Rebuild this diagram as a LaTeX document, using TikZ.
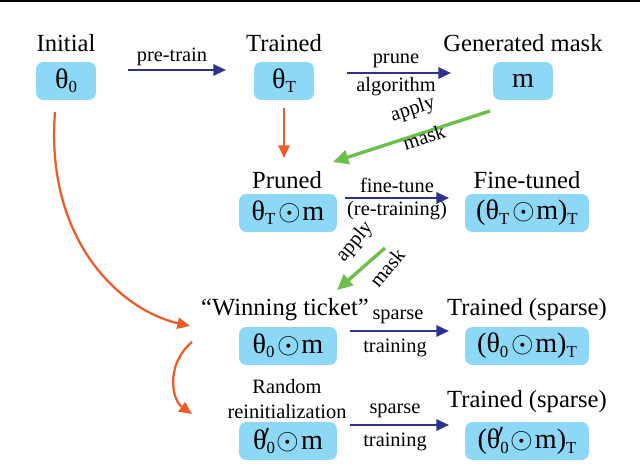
\documentclass[tikz,border=0pt]{standalone}
\usepackage{fontspec}
\setmainfont{Liberation Serif}
\usetikzlibrary{arrows.meta}
\newcommand{\sbx}[1]{\raisebox{-0.15em}{\fontsize{12}{12}\selectfont #1}}
\newcommand{\od}{\kern0.1em$\odot$\kern0.05em}
\begin{document}
\begin{tikzpicture}[x=0.025cm,y=-0.025cm,
  box/.style={fill=boxc,rounded corners=5pt,minimum height=38*0.709pt,font=\fontsize{20}{22}\selectfont,inner sep=2pt},
  lab/.style={font=\fontsize{17.5}{20}\selectfont},
  alab/.style={font=\fontsize{14.5}{17}\selectfont},
  barr/.style={draw=bluec,line width=1.6pt,-{Triangle[length=9pt,width=8pt]}},
  oarr/.style={draw=orangec,line width=1.6pt,-{Triangle[length=9pt,width=8pt]}},
  garr/.style={draw=greenc,line width=2.4pt,-{Triangle[length=11pt,width=10pt]}}]
\definecolor{boxc}{HTML}{8DD8F6}
\definecolor{bluec}{HTML}{2E3192}
\definecolor{orangec}{HTML}{F15A24}
\definecolor{greenc}{HTML}{6CC04A}
\useasboundingbox (0,0) rectangle (640,472);
\draw[line width=1pt] (0,1) -- (640,1);
\node[box,minimum width=60*0.709pt] (t0) at (66,81) {θ\sbx{0}};
\node[box,minimum width=60*0.709pt] (tT) at (284,81) {θ\sbx{T}};
\node[box,minimum width=60*0.709pt] (m) at (523,81) {m};
\node[box,minimum width=98*0.709pt] (pr) at (288,213) {θ\sbx{T}\od m};
\node[box,minimum width=124*0.709pt] (ft) at (527,213) {(θ\sbx{T}\od m)\sbx{T}};
\node[box,minimum width=98*0.709pt] (wt) at (288,346) {θ\sbx{0}\od m};
\node[box,minimum width=124*0.709pt] (ts) at (527,346) {(θ\sbx{0}\od m)\sbx{T}};
\node[box,minimum width=98*0.709pt] (ri) at (288,441) {θ\sbx{0}\kern-0.4em$'$\kern0.15em\od m};
\node[box,minimum width=124*0.709pt] (ts2) at (527,441) {(θ\sbx{0}\kern-0.4em$'$\kern0.15em\od m)\sbx{T}};
\node[lab] (l1) at (66,43) {Initial};
\node[lab] (l2) at (284,43) {Trained};
\node[lab] (l3) at (523,43) {Generated mask};
\node[lab] (l4) at (287,180) {Pruned};
\node[lab] (l5) at (527,180) {Fine-tuned};
\node[lab] (l6) at (285,310) {“Winning ticket”};
\node[lab] (l7) at (527,310) {Trained (sparse)};
\node[alab] (l8) at (287,387) {Random};
\node[alab] (l9) at (287,412) {reinitialization};
\node[lab] (l10) at (527,402) {Trained (sparse)};
% blue arrows
\coordinate (a1) at (128,70); \coordinate (a2) at (226,70);
\draw[barr] (a1) -- (a2); \node[alab] (pt) at (172,57) {pre-train};
\coordinate (b1) at (347,73); \coordinate (b2) at (451,73);
\draw[barr] (b1) -- (b2); \node[alab] at (396,61) {prune}; \node[alab] at (396,87) {algorithm};
\coordinate (c1) at (345,198); \coordinate (c2) at (449,198);
\draw[barr] (c1) -- (c2); \node[alab] at (397,185) {fine-tune}; \node[alab] at (397,211) {(re-training)};
\coordinate (d1) at (350,331); \coordinate (d2) at (449,331);
\draw[barr] (d1) -- (d2); \node[alab] at (398,317) {sparse}; \node[alab] at (395,348) {training};
\coordinate (e1) at (350,425); \coordinate (e2) at (449,425);
\draw[barr] (e1) -- (e2); \node[alab] at (395,411) {sparse}; \node[alab] at (395,442) {training};
% orange
\coordinate (o1) at (284,108); \coordinate (o2) at (284,158);
\draw[oarr] (o1) -- (o2);
\coordinate (p1) at (55,112); \coordinate (p2) at (190,326);
\draw[oarr] (p1) .. controls (45,240) and (120,310) .. (p2);
\coordinate (q1) at (192,342); \coordinate (q2) at (192,414);
\draw[oarr] (q1) .. controls (165,365) and (172,400) .. (q2);
% green
\coordinate (g1) at (490,111); \coordinate (g2) at (333,162);
\draw[garr] (g1) -- (g2);
\node[alab,rotate=18] at (413,110) {apply};
\node[alab,rotate=18] at (424,137) {mask};
\coordinate (h1) at (385,248); \coordinate (h2) at (337,290);
\draw[garr] (h1) -- (h2);
\node[alab,rotate=50] at (355,242) {apply};
\node[alab,rotate=50] at (387,268) {mask};
\end{tikzpicture}
\end{document}
